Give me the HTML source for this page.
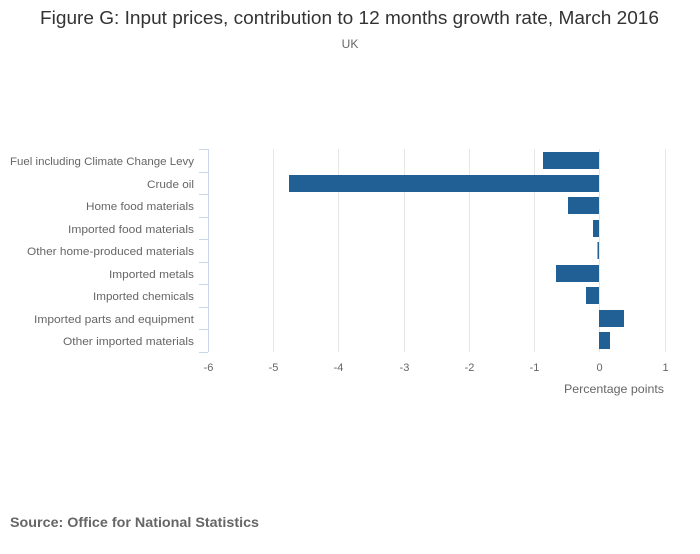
<!DOCTYPE html>
<html><head><style>
body{margin:0;background:#fff;font-family:"Liberation Sans",sans-serif;}
</style></head><body>
<svg width="700" height="549" xmlns="http://www.w3.org/2000/svg" font-family="Liberation Sans, sans-serif">
<text x="40" y="24" font-size="18" fill="#333" textLength="619" lengthAdjust="spacingAndGlyphs">Figure G: Input prices, contribution to 12 months growth rate, March 2016</text>
<text x="350" y="48" text-anchor="middle" font-size="12" fill="#666">UK</text>
<g stroke="#e6e6e6" stroke-width="1">
<line x1="273.5" y1="149" x2="273.5" y2="352"/><line x1="338.5" y1="149" x2="338.5" y2="352"/>
<line x1="404.5" y1="149" x2="404.5" y2="352"/><line x1="469.5" y1="149" x2="469.5" y2="352"/>
<line x1="534.5" y1="149" x2="534.5" y2="352"/><line x1="599.5" y1="149" x2="599.5" y2="352"/>
<line x1="665.5" y1="149" x2="665.5" y2="352"/>
</g>
<g stroke="#ccd6eb" stroke-width="1">
<line x1="208.5" y1="149" x2="208.5" y2="352"/>
<line x1="199" y1="149.5" x2="208" y2="149.5"/><line x1="199" y1="172.5" x2="208" y2="172.5"/>
<line x1="199" y1="194.5" x2="208" y2="194.5"/><line x1="199" y1="217.5" x2="208" y2="217.5"/>
<line x1="199" y1="239.5" x2="208" y2="239.5"/><line x1="199" y1="262.5" x2="208" y2="262.5"/>
<line x1="199" y1="284.5" x2="208" y2="284.5"/><line x1="199" y1="307.5" x2="208" y2="307.5"/>
<line x1="199" y1="329.5" x2="208" y2="329.5"/><line x1="199" y1="352.5" x2="208" y2="352.5"/>
</g>
<g fill="#206095">
<rect x="543" y="152" width="56" height="17"/>
<rect x="289" y="175" width="310" height="17"/>
<rect x="568" y="197" width="31" height="17"/>
<rect x="593" y="220" width="6" height="17"/>
<rect x="597.5" y="242" width="1.5" height="17"/>
<rect x="556" y="265" width="43" height="17"/>
<rect x="586" y="287" width="13" height="17"/>
<rect x="599" y="310" width="25" height="17"/>
<rect x="599" y="332" width="11" height="17"/>
</g>
<g font-size="11" fill="#666" text-anchor="end">
<text x="194" y="165" textLength="184" lengthAdjust="spacingAndGlyphs">Fuel including Climate Change Levy</text>
<text x="194" y="188" textLength="47" lengthAdjust="spacingAndGlyphs">Crude oil</text>
<text x="194" y="210" textLength="108" lengthAdjust="spacingAndGlyphs">Home food materials</text>
<text x="194" y="233" textLength="126" lengthAdjust="spacingAndGlyphs">Imported food materials</text>
<text x="194" y="255" textLength="167" lengthAdjust="spacingAndGlyphs">Other home-produced materials</text>
<text x="194" y="278" textLength="85" lengthAdjust="spacingAndGlyphs">Imported metals</text>
<text x="194" y="300" textLength="101" lengthAdjust="spacingAndGlyphs">Imported chemicals</text>
<text x="194" y="323" textLength="160" lengthAdjust="spacingAndGlyphs">Imported parts and equipment</text>
<text x="194" y="345" textLength="131" lengthAdjust="spacingAndGlyphs">Other imported materials</text>
</g>
<g font-size="11" fill="#666" text-anchor="middle">
<text x="208.5" y="371">-6</text><text x="273.5" y="371">-5</text><text x="338.5" y="371">-4</text>
<text x="404.5" y="371">-3</text><text x="469.5" y="371">-2</text><text x="534.5" y="371">-1</text>
<text x="599.5" y="371">0</text><text x="665.5" y="371">1</text>
</g>
<text x="564" y="393" font-size="12" fill="#666" textLength="100" lengthAdjust="spacingAndGlyphs">Percentage points</text>
<text x="10" y="527" font-size="14" font-weight="bold" fill="#666" textLength="249" lengthAdjust="spacingAndGlyphs">Source: Office for National Statistics</text>
</svg>
</body></html>
